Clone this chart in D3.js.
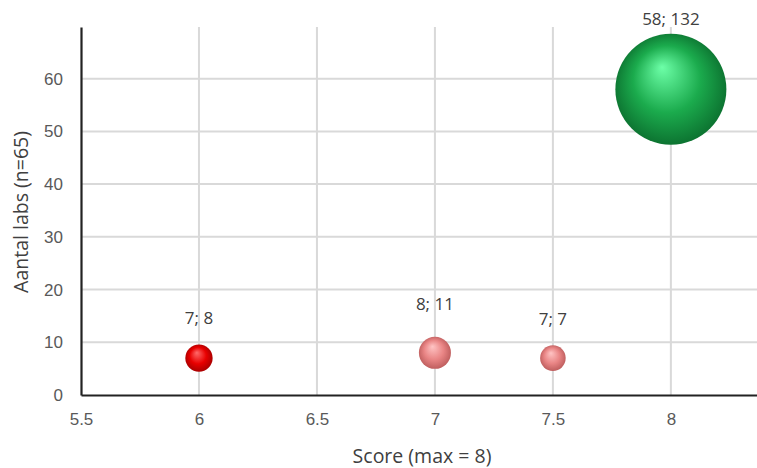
<!DOCTYPE html>
<html>
<head>
<meta charset="utf-8">
<script src="https://cdn.jsdelivr.net/npm/d3@7"></script>
<style>
  body { margin: 0; background: #fff; }
  svg { display: block; font-family: "Open Sans", sans-serif; }
</style>
</head>
<body>
<svg id="chart"></svg>
<script>
// data
const scores = [6, 7, 7.5, 8]
const labCounts = [7, 8, 7, 58]
const sizes = [8, 11, 7, 132]
const pointLabels = ["7; 8", "8; 11", "7; 7", "58; 132"]
const colours = ["red", "pink", "pink", "green"]
const xTicks = [5.5, 6, 6.5, 7, 7.5, 8]
const yTicks = [0, 10, 20, 30, 40, 50, 60]

const width = 757, height = 468
const margin = { top: 27, right: 0, bottom: 73, left: 81 }

const svg = d3.select("#chart")
    .attr("width", width)
    .attr("height", height)

// sphere-like gradients
const defs = svg.append("defs")
const palettes = {
    red: ["#ff6a6a", "#e80000", "#a00000"],
    pink: ["#ffc4c4", "#e98585", "#b85858"],
    green: ["#6dffa8", "#1bab4d", "#0a6a2c"]
}
Object.keys(palettes).forEach(k => {
    const g = defs.append("radialGradient")
        .attr("id", "grad-" + k)
        .attr("cx", "50%").attr("cy", "50%").attr("r", "55%")
        .attr("fx", "42%").attr("fy", "30%")
    g.append("stop").attr("offset", "0%").attr("stop-color", palettes[k][0])
    g.append("stop").attr("offset", "55%").attr("stop-color", palettes[k][1])
    g.append("stop").attr("offset", "100%").attr("stop-color", palettes[k][2])
})

const x = d3.scaleLinear()
    .domain([5.5, 8.365])
    .range([margin.left, width - margin.right])

const y = d3.scaleLinear()
    .domain([0, 69.8])
    .range([height - margin.bottom, margin.top])

const r = d3.scaleSqrt()
    .domain([0, 132])
    .range([0, 55.5])

// gridlines
svg.append("g")
    .selectAll("line.v")
    .data(xTicks.slice(1))
    .join("line")
    .attr("x1", d => x(d)).attr("x2", d => x(d))
    .attr("y1", y.range()[0]).attr("y2", y.range()[1])
    .attr("stroke", "#d9d9d9").attr("stroke-width", 2)

svg.append("g")
    .selectAll("line.h")
    .data(yTicks.slice(1))
    .join("line")
    .attr("x1", x.range()[0]).attr("x2", x.range()[1])
    .attr("y1", d => y(d)).attr("y2", d => y(d))
    .attr("stroke", "#d9d9d9").attr("stroke-width", 2)

// axes
const xAxis = svg.append("g")
    .attr("transform", "translate(0," + y(0) + ")")
    .call(d3.axisBottom(x).tickValues(xTicks).tickFormat(d => String(d)).tickSize(0).tickPadding(18))
const yAxis = svg.append("g")
    .attr("transform", "translate(" + x(5.5) + ",0)")
    .call(d3.axisLeft(y).tickValues(yTicks).tickSize(0).tickPadding(18))

;[xAxis, yAxis].forEach(a => {
    a.select(".domain").attr("stroke", "#222").attr("stroke-width", 2.2)
    a.selectAll("text").attr("fill", "#595959").style("font-size", "17px")
})

// bubbles
const pts = scores.map((s, i) => ({ x: s, y: labCounts[i], size: sizes[i], label: pointLabels[i], c: colours[i] }))

svg.append("g")
    .selectAll("circle")
    .data(pts)
    .join("circle")
    .attr("cx", d => x(d.x))
    .attr("cy", d => y(d.y))
    .attr("r", d => r(d.size))
    .attr("fill", d => "url(#grad-" + d.c + ")")

svg.append("g")
    .selectAll("text")
    .data(pts)
    .join("text")
    .attr("x", d => x(d.x))
    .attr("y", d => Math.max(25, y(d.y) - r(d.size) - (d.size === 11 ? 27 : 20)))
    .attr("text-anchor", "middle")
    .attr("fill", "#404040")
    .style("font-size", "17px")
    .text(d => d.label)

// axis titles
svg.append("text")
    .attr("x", 422).attr("y", 463)
    .attr("text-anchor", "middle")
    .attr("fill", "#404040")
    .style("font-size", "19.5px")
    .text("Score (max = 8)")

svg.append("text")
    .attr("transform", "translate(28," + 212 + ") rotate(-90)")
    .attr("text-anchor", "middle")
    .attr("fill", "#404040")
    .style("font-size", "19.5px")
    .text("Aantal labs (n=65)")
</script>
</body>
</html>
